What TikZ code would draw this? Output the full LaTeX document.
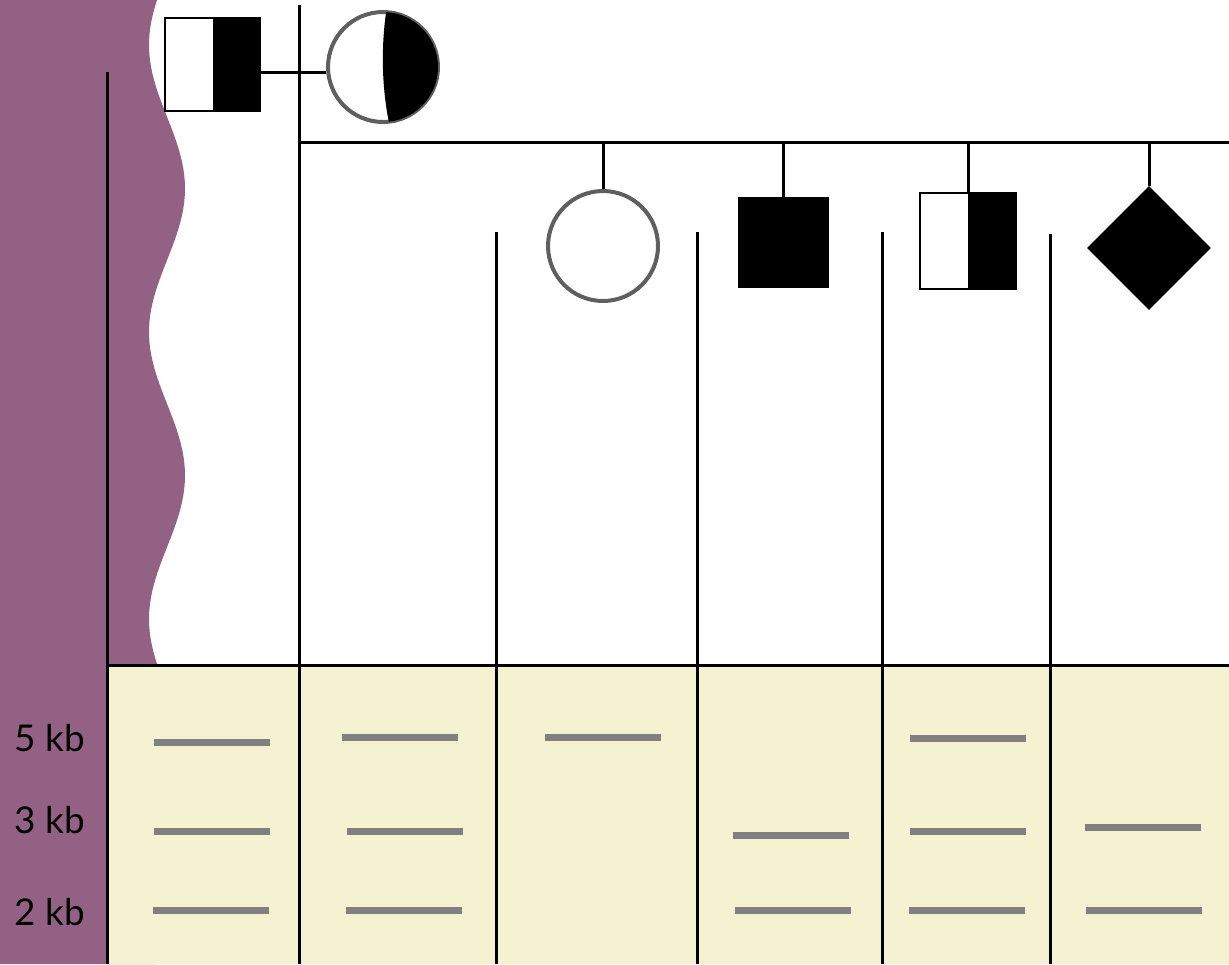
\documentclass[tikz,border=0pt]{standalone}
\usepackage{fontspec}
\setmainfont{Lato}
\usetikzlibrary{calc,shapes.geometric}
\usepackage{xcolor}
\definecolor{wavepurple}{HTML}{926184}
\definecolor{gelcream}{HTML}{F5F2D1}
\definecolor{bandgray}{HTML}{808080}
\definecolor{ringgray}{HTML}{5F5F5F}

\tikzset{
  pedline/.style={black, line width=0.06cm},
  halfbox/.style={draw=black, line width=0.04cm, fill=white, inner sep=0pt,
    path picture={\fill[black] (path picture bounding box.north) rectangle (path picture bounding box.south east);}},
  ringnode/.style={circle, draw=ringgray, line width=0.08cm, fill=white, inner sep=0pt, minimum size=2.2cm},
  band/.style={draw=bandgray, line width=0.14cm},
  kblabel/.style={font=\fontsize{21}{24}\selectfont, inner sep=0pt}
}

\begin{document}
\begin{tikzpicture}[x=0.02cm, y=-0.02cm]
  \useasboundingbox (0,0) rectangle (1229,964);

  % Purple wavy backdrop
  \fill[wavepurple] (0,0) -- plot[domain=0:665, samples=100] ({167-18*cos(1.2544*(\x-45))}, \x)
    -- (155,964) -- (0,964) -- cycle;

  % Gel background
  \fill[gelcream] (107,665) rectangle (1229,964);
  \draw[pedline] (107,665) -- (1229,665);

  % Lane separators
  \draw[pedline] (107,72) -- (107,964);
  \draw[pedline] (299,5) -- (299,964);
  \foreach \lx/\ly in {496/232, 697/232, 882/232, 1050/234}
    \draw[pedline] (\lx,\ly) -- (\lx,964);

  % Parents
  \node[halfbox, minimum width=1.9cm, minimum height=1.86cm] (dad) at (212.5,64.5) {};
  \node[ringnode] (mom) at (383,67) {};
  \begin{scope}
    \clip (383,67) circle (55);
    \fill[black] (388,0) .. controls (380,45) and (381,95) .. (393,140) -- (460,140) -- (460,0) -- cycle;
  \end{scope}
  \coordinate (mate) at (0,72);
  \draw[pedline] (dad.east |- mate) -- (mom.west |- mate);

  % Sibship line
  \coordinate (sibL) at (299,142);
  \coordinate (sibR) at (1229,142);
  \draw[pedline] (sibL) -- (sibR);

  % Children
  \node[ringnode] (girl) at (603,246) {};
  \node[fill=black, inner sep=0pt, minimum size=1.82cm] (boy) at (783.5,242.5) {};
  \node[halfbox, minimum size=1.92cm] (carrier) at (968,241) {};
  \node[diamond, fill=black, inner sep=0pt, minimum width=2.48cm, minimum height=2.48cm] (sib) at (1149,248) {};
  \foreach \kid in {girl, boy, carrier, sib}
    \draw[pedline] (\kid.north) -- (\kid.north |- sibL);

  % Size markers
  \foreach \ky/\kt in {738/5, 820/3, 912/2}
    \node[kblabel] (kb\kt) at (50,\ky) {\kt\ kb};

  % Bands
  \foreach \bx/\by in {154/742, 154/831, 153/910,
                       342/737, 347/831, 346/910,
                       545/737,
                       733/835, 735/910,
                       910/738, 910/831, 909/910,
                       1085/827, 1086/910}
    \draw[band] (\bx,\by) -- ++(116,0);

\end{tikzpicture}
\end{document}
